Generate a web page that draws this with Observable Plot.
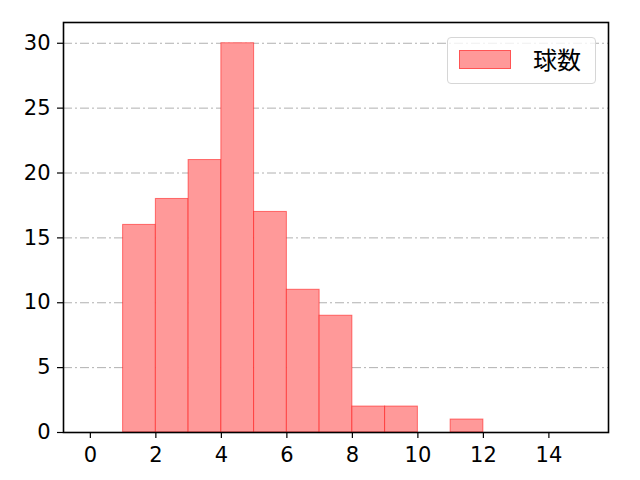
<!DOCTYPE html>
<html><head><meta charset="utf-8">
<script src="https://cdn.jsdelivr.net/npm/d3@7"></script>
<script src="https://cdn.jsdelivr.net/npm/@observablehq/plot@0.6"></script>
<style>
body{margin:0;background:#fff;}
#wrap{position:relative;width:640px;height:480px;}
#wrap svg text{font-size:21px !important;font-family:"DejaVu Sans",sans-serif !important;fill:#000;}
#legend{position:absolute;left:447px;top:37px;width:147px;height:45px;border:1px solid #d6d6d6;border-radius:4px;background:rgba(255,255,255,0.8);font-family:"Noto Sans CJK JP",sans-serif;font-size:24px;}
#legend .sw{position:absolute;left:11px;top:12px;width:52px;height:19px;background:#ff9999;border:1px solid rgba(255,0,0,0.45);box-sizing:border-box;}
#legend .lb{position:absolute;left:85px;top:5px;line-height:32px;}
</style></head>
<body><div id="wrap"><div id="legend"><div class="sw"></div><div class="lb">球数</div></div></div>
<script>
const binStart = [1,2,3,4,5,6,7,8,9,10,11];
const binEnd   = [2,3,4,5,6,7,8,9,10,11,12];
const counts   = [16,18,21,30,17,11,9,2,2,0,1];
const xTicks = [0,2,4,6,8,10,12,14];
const yTicks = [0,5,10,15,20,25,30];
const data = binStart.map((s,i)=>({x1:s,x2:binEnd[i],y:counts[i]})).filter(d=>d.y>0);
const chart = Plot.plot({
  width:640,height:480,
  marginLeft:63,marginRight:32,marginTop:22,marginBottom:48,
  style:{fontFamily:"'DejaVu Sans', sans-serif",fontSize:"21px",color:"#000",background:"#fff"},
  x:{domain:[-0.82,15.82],label:null},
  y:{domain:[0,31.6],label:null},
  marks:[
    Plot.ruleY(yTicks.filter(t=>t>0),{stroke:"#b0b0b0",strokeWidth:1,strokeDasharray:"9,3,2,3"}),
    Plot.rectY(data,{x1:"x1",x2:"x2",y:"y",fill:"#ff9999",stroke:"red",strokeOpacity:0.5,strokeWidth:1,inset:0}),
    Plot.axisX({ticks:xTicks,tickSize:6,tickPadding:9,stroke:"#000",strokeWidth:1.2}),
    Plot.axisY({ticks:yTicks,tickSize:6,tickPadding:7,stroke:"#000",strokeWidth:1.2}),
    Plot.frame({stroke:"#000",strokeWidth:1.6})
  ]
});
chart.style.position="absolute";chart.style.left="0";chart.style.top="0";
document.getElementById("wrap").prepend(chart);
</script></body></html>
